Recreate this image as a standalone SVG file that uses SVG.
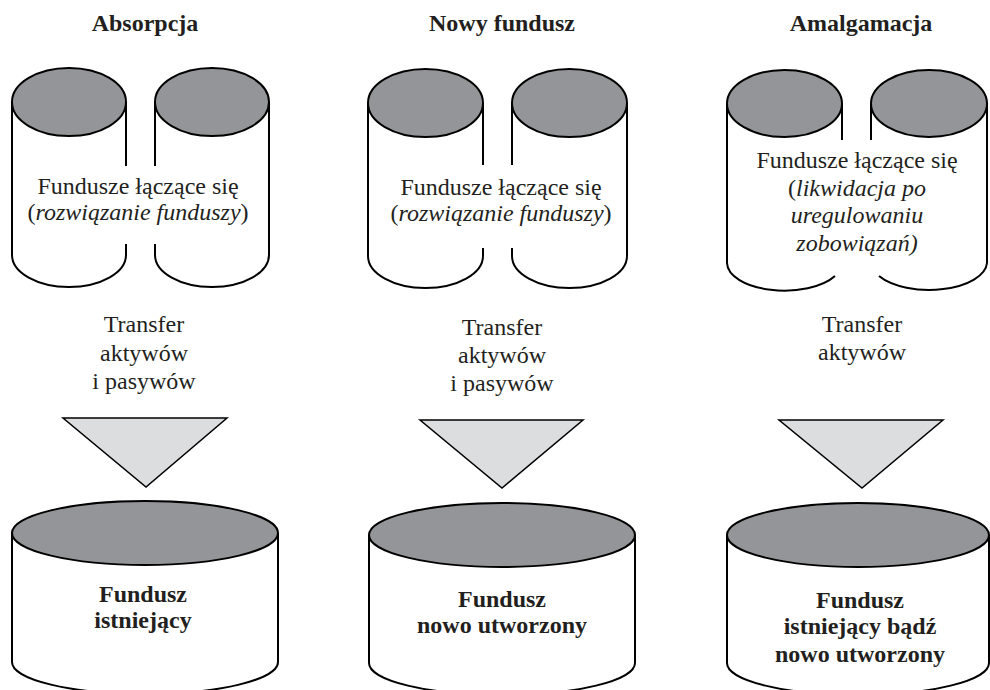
<svg xmlns="http://www.w3.org/2000/svg" width="990" height="690" viewBox="0 0 990 690">
<style>
.t{font-family:"Liberation Serif","Times New Roman",serif;font-size:24px;fill:#231f20;text-anchor:middle}
.b{font-weight:bold}
.i{font-style:italic}
.top{fill:#939598;stroke:#000;stroke-width:2}
.ln{fill:none;stroke:#000;stroke-width:2}
.body{fill:#fff;stroke:none}
.tri{fill:#dcdddf;stroke:#000;stroke-width:1.5}
</style>
<rect width="990" height="690" fill="#fff"/>

<g id="titles">
<text class="t b" x="145" y="31">Absorpcja</text>
<text class="t b" x="502" y="31">Nowy fundusz</text>
<text class="t b" x="861" y="31">Amalgamacja</text>
</g>

<!-- Panel A -->
<g id="a-merging">
<path class="ln" d="M12,102 V255 A57,32 0 0 0 126,255 V244 M126,166 V102"/>
<ellipse class="top" cx="69" cy="102" rx="57" ry="34"/>
<path class="ln" d="M269,102 V255 A57,32 0 0 1 155,255 V244 M155,166 V102"/>
<ellipse class="top" cx="212" cy="102" rx="57" ry="34"/>
<text class="t" x="138" y="194">Fundusze łączące się</text>
<text class="t" x="138" y="220">(<tspan class="i">rozwiązanie funduszy</tspan>)</text>
</g>
<g id="a-transfer">
<text class="t" x="144" y="332">Transfer</text>
<text class="t" x="144" y="361">aktywów</text>
<text class="t" x="144" y="389">i pasywów</text>
<polygon class="tri" points="63,418 227,418 146,487"/>
</g>
<g id="a-target">
<path class="body" d="M12,533 V662 A133,32 0 0 0 278,662 V533 Z"/>
<path class="ln" d="M12,533 V662 A133,32 0 0 0 278,662 V533"/>
<ellipse class="top" cx="145" cy="533" rx="133" ry="32"/>
<text class="t b" x="143" y="602">Fundusz</text>
<text class="t b" x="143" y="628">istniejący</text>
</g>

<!-- Panel B -->
<g id="b-merging">
<path class="ln" d="M368,103 V256 A57.5,32 0 0 0 483,256 V248 M483,165 V103"/>
<ellipse class="top" cx="425.5" cy="103" rx="57.5" ry="34"/>
<path class="ln" d="M627,103 V256 A57.5,32 0 0 1 512,256 V248 M512,165 V103"/>
<ellipse class="top" cx="569.5" cy="103" rx="57.5" ry="34"/>
<text class="t" x="501" y="195">Fundusze łączące się</text>
<text class="t" x="501" y="221">(<tspan class="i">rozwiązanie funduszy</tspan>)</text>
</g>
<g id="b-transfer">
<text class="t" x="502" y="335">Transfer</text>
<text class="t" x="502" y="363">aktywów</text>
<text class="t" x="502" y="391">i pasywów</text>
<polygon class="tri" points="420,420 583,420 502,488"/>
</g>
<g id="b-target">
<path class="body" d="M369,535 V663 A133,32 0 0 0 635,663 V535 Z"/>
<path class="ln" d="M369,535 V663 A133,32 0 0 0 635,663 V535"/>
<ellipse class="top" cx="502" cy="535" rx="133" ry="32"/>
<text class="t b" x="502" y="607">Fundusz</text>
<text class="t b" x="502" y="633">nowo utworzony</text>
</g>

<!-- Panel C -->
<g id="c-merging">
<path class="ln" d="M727,103.5 V263 A57.5,28 0 0 0 835,276 M842,140 V103.5"/>
<ellipse class="top" cx="784.5" cy="103.5" rx="57.5" ry="33.5"/>
<path class="ln" d="M987,103.5 V263 A58,28 0 0 1 879,276 M871,140 V103.5"/>
<ellipse class="top" cx="929" cy="103.5" rx="58" ry="33.5"/>
<text class="t" x="857" y="168">Fundusze łączące się</text>
<text class="t" x="857" y="196">(<tspan class="i">likwidacja po</tspan></text>
<text class="t i" x="857" y="223">uregulowaniu</text>
<text class="t i" x="857" y="251">zobowiązań)</text>
</g>
<g id="c-transfer">
<text class="t" x="862" y="332">Transfer</text>
<text class="t" x="862" y="360">aktywów</text>
<polygon class="tri" points="779,420 943,420 862,488"/>
</g>
<g id="c-target">
<path class="body" d="M727,535 V663 A131,32 0 0 0 989,663 V535 Z"/>
<path class="ln" d="M727,535 V663 A131,32 0 0 0 989,663 V535"/>
<ellipse class="top" cx="858" cy="535" rx="131" ry="32"/>
<text class="t b" x="860" y="608">Fundusz</text>
<text class="t b" x="860" y="634">istniejący bądź</text>
<text class="t b" x="860" y="662">nowo utworzony</text>
</g>
</svg>
